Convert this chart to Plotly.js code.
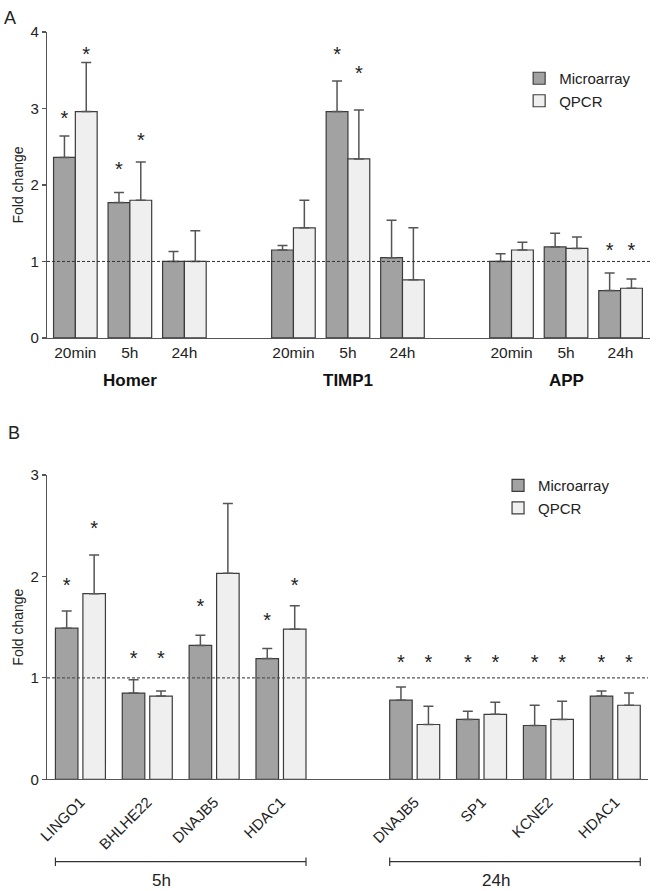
<!DOCTYPE html>
<html>
<head>
<meta charset="utf-8">
<script src="https://cdn.plot.ly/plotly-3.0.1.min.js"></script>
<style>html,body{margin:0;padding:0;background:#fff;}#chart{width:656px;height:891px;}</style>
</head>
<body>
<div id="chart"></div>
<script>
// ---------- Panel A data ----------
const genesA = ['Homer', 'TIMP1', 'APP'];
const timesA = ['20min', '5h', '24h'];
const microA = [2.36, 1.77, 1.00, 1.15, 2.96, 1.05, 1.00, 1.19, 0.62];
const microA_sem = [0.28, 0.13, 0.13, 0.06, 0.40, 0.49, 0.10, 0.18, 0.23];
const qpcrA = [2.96, 1.80, 1.00, 1.44, 2.34, 0.76, 1.15, 1.17, 0.65];
const qpcrA_sem = [0.64, 0.50, 0.40, 0.36, 0.64, 0.68, 0.10, 0.15, 0.12];
const starMicroA = [2.85, 2.18, null, null, 3.69, null, null, null, 1.12];
const starQpcrA = [3.69, 2.56, null, null, 3.44, null, null, null, 1.12];

// ---------- Panel B data ----------
const periodsB = ['5h', '24h'];
const genesB5h = ['LINGO1', 'BHLHE22', 'DNAJB5', 'HDAC1'];
const genesB24h = ['DNAJB5', 'SP1', 'KCNE2', 'HDAC1'];
const microB = [1.49, 0.85, 1.32, 1.19, 0.78, 0.59, 0.53, 0.82];
const microB_sem = [0.17, 0.13, 0.10, 0.10, 0.13, 0.08, 0.20, 0.05];
const qpcrB = [1.83, 0.82, 2.03, 1.48, 0.54, 0.64, 0.59, 0.73];
const qpcrB_sem = [0.38, 0.05, 0.69, 0.23, 0.18, 0.12, 0.18, 0.12];
const starMicroB = [1.90, 1.18, 1.69, 1.55, 1.14, 1.14, 1.14, 1.14];
const starQpcrB = [2.46, 1.18, null, 1.90, 1.14, 1.14, 1.14, 1.14];

const seriesNames = ['Microarray', 'QPCR'];

// ---------- positions derived from data structure ----------
const posA = [], labA = [];
genesA.forEach((g, gi) => timesA.forEach((t, ti) => { posA.push(gi * (timesA.length + 1) + ti); labA.push(t); }));
const genesBAll = [genesB5h, genesB24h];
const posB = [], labB = [];
genesBAll.forEach((list, gi) => list.forEach((g, ti) => { posB.push(gi * (list.length + 1) + ti); labB.push(g); }));

// ---------- styles ----------
const FONT = 'Liberation Sans, Arial, sans-serif';
const cMicro = '#a2a2a2', cQpcr = '#efefef', cLine = '#3c3c3c', cErr = '#555555';
const wA = 0.4, offA = [-0.4, 0];
const wB = 0.337, offB = [-0.374, 0.037];

function barTrace(name, x, y, sem, color, width, offset, xa, ya, legend, showlegend) {
  return {
    type: 'bar', name: name, x: x, y: y, width: width, offset: offset,
    xaxis: xa, yaxis: ya, legend: legend, showlegend: showlegend,
    marker: {color: color, line: {color: cLine, width: 1.2}},
    error_y: {type: 'data', array: sem, arrayminus: sem.map(() => 0), symmetric: false,
              color: cErr, thickness: 1.5, width: 5},
    hoverinfo: 'skip'
  };
}
function starTrace(x, ys, xa, ya) {
  return {
    type: 'scatter', mode: 'text', x: x, y: ys, text: ys.map(v => v == null ? '' : '*'),
    textposition: 'middle center', textfont: {family: FONT, size: 20, color: '#222'},
    xaxis: xa, yaxis: ya, showlegend: false, hoverinfo: 'skip'
  };
}

const traces = [
  barTrace(seriesNames[0], posA, microA, microA_sem, cMicro, wA, offA[0], 'x', 'y', 'legend', true),
  barTrace(seriesNames[1], posA, qpcrA, qpcrA_sem, cQpcr, wA, offA[1], 'x', 'y', 'legend', true),
  starTrace(posA.map(p => p + offA[0] + wA / 2), starMicroA, 'x', 'y'),
  starTrace(posA.map(p => p + offA[1] + wA / 2), starQpcrA, 'x', 'y'),
  barTrace(seriesNames[0], posB, microB, microB_sem, cMicro, wB, offB[0], 'x2', 'y2', 'legend2', true),
  barTrace(seriesNames[1], posB, qpcrB, qpcrB_sem, cQpcr, wB, offB[1], 'x2', 'y2', 'legend2', true),
  starTrace(posB.map(p => p + offB[0] + wB / 2), starMicroB, 'x2', 'y2'),
  starTrace(posB.map(p => p + offB[1] + wB / 2), starQpcrB, 'x2', 'y2')
];

const axisCommon = {showgrid: false, zeroline: false, showline: true, linecolor: '#555', linewidth: 1.2,
                    automargin: false, fixedrange: true};

const annotations = [];
// Panel letters
annotations.push({text: 'A', xref: 'paper', yref: 'paper', x: -0.074, y: 0.993, xanchor: 'left', yanchor: 'top',
  showarrow: false, font: {family: FONT, size: 18, color: '#222'}});
annotations.push({text: 'B', xref: 'paper', yref: 'paper', x: -0.068, y: 0.527, xanchor: 'left', yanchor: 'top',
  showarrow: false, font: {family: FONT, size: 18, color: '#222'}});
// Gene labels under panel A
genesA.forEach((g, gi) => {
  annotations.push({text: '<b>' + g + '</b>', xref: 'x', yref: 'paper', x: gi * (timesA.length + 1) + 1,
    y: 0.5724, yanchor: 'middle', showarrow: false, font: {family: FONT, size: 17, color: '#111'}});
});

const shapes = [
  {type: 'line', xref: 'x domain', yref: 'y', x0: 0, x1: 1, y0: 1, y1: 1, layer: 'above',
   line: {color: '#333', width: 1, dash: '3px,2px'}},
  {type: 'line', xref: 'x2 domain', yref: 'y2', x0: 0, x1: 1, y0: 1, y1: 1, layer: 'above',
   line: {color: '#555', width: 1.2, dash: '3px,2px'}}
];
// Period brackets under panel B
genesBAll.forEach((list, gi) => {
  const first = gi * (list.length + 1), last = first + list.length - 1;
  const x0 = first + offB[0], x1 = last + offB[1] + wB;
  const yl = 0.0329, yc0 = 0.0281, yc1 = 0.0376;
  const ln = {color: '#333', width: 1.2};
  shapes.push({type: 'line', xref: 'x2', yref: 'paper', x0: x0, x1: x1, y0: yl, y1: yl, line: ln});
  shapes.push({type: 'line', xref: 'x2', yref: 'paper', x0: x0, x1: x0, y0: yc0, y1: yc1, line: ln});
  shapes.push({type: 'line', xref: 'x2', yref: 'paper', x0: x1, x1: x1, y0: yc0, y1: yc1, line: ln});
  annotations.push({text: periodsB[gi], xref: 'x2', yref: 'paper', x: (x0 + x1) / 2, xshift: -19,
    y: 0.0123, yanchor: 'middle', showarrow: false, font: {family: FONT, size: 17, color: '#222'}});
});

const layout = {
  width: 656, height: 891,
  margin: {l: 47, r: 6, t: 0, b: 0},
  paper_bgcolor: '#fff', plot_bgcolor: 'rgba(0,0,0,0)',
  font: {family: FONT, color: '#222'},
  barmode: 'overlay',
  xaxis: Object.assign({}, axisCommon, {domain: [0, 1], range: [-0.52, 10.54], anchor: 'y',
    tickmode: 'array', tickvals: posA, ticktext: labA, ticks: '', tickangle: 0,
    tickfont: {family: FONT, size: 15.5, color: '#222'}}),
  yaxis: Object.assign({}, axisCommon, {domain: [0.6207, 0.9641], range: [0, 4], anchor: 'x',
    tickvals: [0, 1, 2, 3, 4], ticks: 'outside', ticklen: 4, tickwidth: 1.2, tickcolor: '#555',
    tickfont: {family: FONT, size: 15, color: '#222'},
    title: {text: 'Fold change', standoff: 3, font: {family: FONT, size: 14, color: '#222'}}}),
  xaxis2: Object.assign({}, axisCommon, {domain: [0, 0.9967], range: [-0.5, 8.49], anchor: 'y2',
    tickmode: 'array', tickvals: posB, ticktext: labB, ticks: '', tickangle: -45, ticklabelstandoff: 7,
    tickfont: {family: FONT, size: 15, color: '#222'}}),
  yaxis2: Object.assign({}, axisCommon, {domain: [0.1254, 0.4669], range: [0, 3], anchor: 'x2',
    tickvals: [0, 1, 2, 3], ticks: 'outside', ticklen: 4, tickwidth: 1.2, tickcolor: '#555',
    tickfont: {family: FONT, size: 15, color: '#222'},
    title: {text: 'Fold change', standoff: 3, font: {family: FONT, size: 14, color: '#222'}}}),
  legend: {x: 0.783, y: 0.9304, xanchor: 'left', yanchor: 'top', bgcolor: 'rgba(0,0,0,0)',
    font: {family: FONT, size: 15, color: '#222'}, traceorder: 'normal', tracegroupgap: 0},
  legend2: {x: 0.748, y: 0.4735, xanchor: 'left', yanchor: 'top', bgcolor: 'rgba(0,0,0,0)',
    font: {family: FONT, size: 15, color: '#222'}, traceorder: 'normal', tracegroupgap: 0},
  annotations: annotations,
  shapes: shapes,
  showlegend: true
};

Plotly.newPlot('chart', traces, layout, {displayModeBar: false, staticPlot: true});
</script>
</body>
</html>
